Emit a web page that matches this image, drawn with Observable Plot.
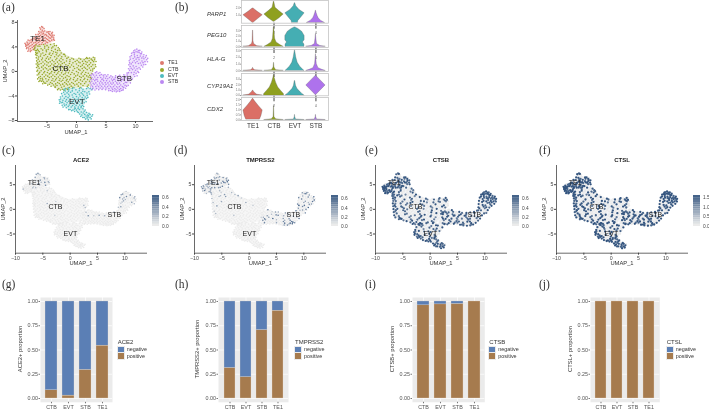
<!DOCTYPE html>
<html><head><meta charset="utf-8">
<style>html,body{margin:0;padding:0;background:#fff}#fig{position:relative;width:709px;height:412px;overflow:hidden;font-family:"Liberation Sans",sans-serif;filter:blur(.28px)}#fig span{position:absolute;white-space:nowrap;line-height:1}</style>
<script src="https://cdn.jsdelivr.net/npm/d3@7"></script>
<script src="https://cdn.jsdelivr.net/npm/@observablehq/plot@0.6"></script>
</head><body><div id="fig"></div>
<script>
// ---------- UMAP cells ----------
const te1Pts=[[-8.6,4.4],[-8.4,3.9],[-8.4,4.8],[-8.1,3.5],[-8.0,4.1],[-8.0,4.6],[-7.9,5.0],[-7.7,3.4],[-7.5,3.9],[-7.5,4.4],[-7.5,4.9],[-7.4,5.3],[-7.1,3.7],[-7.1,4.2],[-7.0,4.7],[-7.0,5.2],[-6.9,5.6],[-6.7,4.6],[-6.6,5.0],[-6.6,5.5],[-6.5,6.0],[-6.3,4.4],[-6.2,4.9],[-6.2,5.4],[-6.1,5.9],[-6.0,6.4],[-6.1,6.9],[-5.9,7.3],[-5.8,6.7],[-5.8,4.7],[-5.7,5.2],[-5.7,5.7],[-5.6,6.2],[-5.4,6.6],[-5.3,4.5],[-5.3,5.0],[-5.3,5.5],[-5.2,6.0],[-5.0,6.4],[-4.9,4.7],[-4.9,5.2],[-4.8,5.7],[-4.7,6.2],[-4.5,4.9],[-4.4,5.4],[-4.4,5.9],[-4.2,6.2],[-4.2,5.1],[-4.0,5.6],[-3.9,5.2],[-4.5,6.5],[-6.4,6.5],[-5.5,7.0],[-8.2,5.1],[-8.6,4.1],[-8.3,4.3],[-7.8,3.7],[-7.7,4.7],[-6.9,6.0],[-3.8,5.9]];
const ctbPts=[[-6.9,4.3],[-6.2,4.1],[-5.6,4.4],[-5.0,4.2],[-4.4,4.4],[-3.8,4.5],[-3.4,4.2],[-7.1,3.8],[-6.6,3.6],[-6.0,3.7],[-5.4,3.8],[-4.8,3.6],[-4.2,3.8],[-3.6,3.6],[-3.1,3.9],[-2.8,3.4],[-6.9,3.1],[-6.3,3.2],[-5.7,3.0],[-5.1,3.2],[-4.5,3.0],[-3.9,3.2],[-3.3,3.0],[-2.6,3.0],[-2.2,2.8],[-6.7,2.6],[-6.1,2.5],[-5.5,2.6],[-4.9,2.4],[-4.3,2.6],[-3.7,2.4],[-3.1,2.5],[-2.5,2.4],[-1.9,2.5],[-1.4,2.3],[-6.5,2.0],[-5.9,1.9],[-5.3,1.8],[-4.7,2.0],[-4.1,1.8],[-3.5,1.9],[-2.9,1.8],[-2.3,1.9],[-1.7,1.7],[-1.1,1.9],[-0.5,2.0],[0.1,1.8],[0.7,2.0],[1.3,1.9],[1.9,2.1],[2.5,2.0],[3.1,2.2],[2.9,1.6],[-6.6,1.4],[-6.0,1.3],[-5.4,1.2],[-4.8,1.4],[-4.2,1.2],[-3.6,1.3],[-3.0,1.2],[-2.4,1.3],[-1.8,1.1],[-1.2,1.3],[-0.6,1.4],[0.0,1.2],[0.6,1.4],[1.2,1.3],[1.8,1.5],[2.4,1.4],[3.2,1.1],[-6.5,0.8],[-5.9,0.7],[-5.3,0.6],[-4.7,0.8],[-4.1,0.6],[-3.5,0.7],[-2.9,0.6],[-2.3,0.7],[-1.7,0.5],[-1.1,0.7],[-0.5,0.8],[0.1,0.6],[0.7,0.8],[1.3,0.7],[1.9,0.9],[2.5,0.8],[3.0,0.5],[-6.6,0.2],[-6.0,0.1],[-5.4,0.0],[-4.8,0.2],[-4.2,0.0],[-3.6,0.1],[-3.0,0.0],[-2.4,0.1],[-1.8,-0.1],[-1.2,0.1],[-0.6,0.2],[0.0,0.0],[0.6,0.2],[1.2,0.1],[1.8,0.3],[2.4,0.2],[-6.4,-0.4],[-5.8,-0.5],[-5.2,-0.6],[-4.6,-0.4],[-4.0,-0.6],[-3.4,-0.5],[-2.8,-0.6],[-2.2,-0.5],[-1.6,-0.7],[-1.0,-0.5],[-0.4,-0.4],[0.2,-0.6],[0.8,-0.4],[1.4,-0.5],[2.0,-0.3],[-6.4,-1.0],[-5.8,-1.1],[-5.2,-1.2],[-4.6,-1.0],[-4.0,-1.2],[-3.4,-1.1],[-2.8,-1.2],[-2.2,-1.1],[-1.6,-1.3],[-1.0,-1.1],[-0.4,-1.0],[0.2,-1.2],[0.8,-1.0],[1.4,-1.1],[2.0,-0.9],[2.5,-1.2],[-6.2,-1.5],[-5.6,-1.7],[-5.0,-1.6],[-4.4,-1.8],[-3.8,-1.6],[-3.2,-1.8],[-2.6,-1.6],[-2.0,-1.8],[-1.4,-1.7],[-0.8,-1.8],[-0.2,-1.6],[0.4,-1.8],[1.0,-1.6],[1.6,-1.7],[2.2,-1.6],[-4.6,-2.1],[-3.9,-2.2],[-3.3,-2.3],[-2.7,-2.2],[-2.1,-2.4],[-1.5,-2.2],[-0.9,-2.4],[-0.3,-2.2],[0.3,-2.4],[1.1,-2.3],[2.0,-2.2],[-3.0,-2.8],[-2.4,-2.9],[-1.8,-2.8],[-6.1,-1.2],[-5.4,-1.9],[-6.6,1.0],[-6.8,2.9],[-7.0,3.4],[-6.6,3.0],[-4.0,4.0],[-3.2,3.4],[2.7,1.8],[1.6,2.1],[2.2,2.2]];
const evtPts=[[-1.9,-2.8],[-1.3,-3.0],[-0.7,-2.8],[-0.1,-3.0],[0.5,-2.8],[1.1,-2.9],[1.7,-2.8],[2.3,-2.8],[-2.2,-3.4],[-1.6,-3.5],[-1.0,-3.4],[-0.4,-3.6],[0.2,-3.4],[0.8,-3.5],[1.4,-3.3],[2.1,-3.3],[2.6,-3.0],[-2.4,-4.0],[-1.8,-4.1],[-1.2,-4.0],[-0.6,-4.2],[0.0,-4.1],[0.6,-4.0],[1.2,-3.9],[1.8,-3.9],[-2.7,-4.5],[-2.3,-4.7],[-1.7,-4.6],[-1.1,-4.5],[-0.5,-4.8],[0.1,-4.6],[0.7,-4.6],[1.3,-4.5],[1.7,-4.4],[-2.6,-5.1],[-2.1,-5.3],[-1.6,-5.1],[-1.0,-5.2],[-0.4,-5.3],[0.2,-5.2],[0.8,-5.2],[1.3,-5.1],[-2.0,-5.6],[-1.4,-5.7],[-0.9,-5.8],[-0.3,-5.8],[0.3,-5.8],[0.8,-5.7],[-1.1,-6.2],[-0.6,-6.3],[0.0,-6.3],[0.5,-6.2],[1.1,-6.1],[0.3,-6.7],[0.8,-6.6],[1.3,-6.5],[1.7,-6.7],[0.9,-7.1],[1.4,-7.0],[1.9,-7.1],[2.3,-7.0],[1.3,-7.5],[1.8,-7.6],[2.3,-7.5],[2.6,-7.3],[2.0,-7.9],[-2.8,-4.9],[-1.9,-3.2],[-0.2,-6.0],[1.0,-5.5]];
const stbPts=[[2.7,-0.4],[3.2,-0.2],[3.7,-0.3],[4.2,-0.5],[2.6,-1.0],[3.1,-0.9],[3.6,-1.0],[4.1,-1.0],[4.6,-0.9],[5.1,-0.8],[5.6,-1.0],[6.1,-0.9],[6.6,-1.0],[7.1,-0.8],[7.6,-1.0],[8.1,-0.8],[8.6,-0.6],[2.6,-1.6],[3.1,-1.5],[3.6,-1.6],[4.1,-1.6],[4.6,-1.5],[5.1,-1.5],[5.6,-1.6],[6.1,-1.5],[6.6,-1.6],[7.1,-1.5],[7.6,-1.6],[8.1,-1.4],[8.6,-1.2],[9.1,-0.8],[2.5,-2.2],[3.0,-2.1],[3.5,-2.2],[4.0,-2.2],[4.5,-2.1],[5.0,-2.1],[5.5,-2.2],[6.0,-2.1],[6.5,-2.2],[7.0,-2.1],[7.5,-2.2],[8.0,-2.0],[8.5,-1.8],[9.0,-1.4],[2.8,-2.7],[3.4,-2.8],[4.0,-2.7],[4.5,-2.7],[5.0,-2.7],[5.5,-2.8],[6.0,-2.7],[6.5,-2.8],[7.0,-2.7],[7.5,-2.8],[8.0,-2.6],[8.5,-2.4],[5.8,-3.1],[6.4,-3.2],[7.0,-3.2],[7.6,-3.1],[9.3,-0.2],[9.7,-0.5],[10.1,-0.3],[9.0,0.2],[9.5,0.3],[10.0,0.2],[10.4,0.0],[9.1,0.8],[9.6,0.9],[10.1,0.8],[10.6,0.6],[9.0,1.4],[9.5,1.5],[10.0,1.4],[10.5,1.3],[11.0,1.0],[11.4,1.1],[9.1,2.0],[9.6,2.1],[10.1,2.0],[10.6,1.9],[11.1,1.7],[11.6,1.6],[11.9,1.9],[9.3,2.6],[9.8,2.7],[10.3,2.6],[10.8,2.5],[11.3,2.4],[11.7,2.3],[9.6,3.1],[10.1,3.2],[10.6,3.1],[11.0,2.9],[9.9,3.5],[10.5,3.4],[2.9,-0.6],[3.3,-1.3],[3.9,-1.9],[4.3,-1.3],[4.8,-2.4],[5.3,-1.2],[5.8,-1.9],[6.3,-1.3],[6.8,-2.5],[7.3,-1.9],[7.8,-1.3],[8.3,-1.0],[8.8,-0.2],[6.7,-3.0],[7.9,-2.9]];
// a second pass over the same picture, denser along the edges
const te1More=[[-8.72,4.57],[-8.53,4.22],[-8.47,3.72],[-8.24,3.28],[-8.31,4.63],[-8.13,3.82],[-8.14,4.38],[-7.83,3.23],[-7.72,4.18],[-7.66,5.16],[-7.33,3.56],[-7.28,4.09],[-7.26,4.63],[-7.17,5.43],[-6.83,4.36],[-6.81,4.93],[-6.74,5.28],[-6.42,4.72],[-6.38,5.21],[-6.31,5.73],[-6.27,6.22],[-5.97,4.43],[-5.94,5.08],[-5.92,5.62],[-5.83,6.08],[-5.67,6.46],[-5.57,4.93],[-5.52,5.41],[-5.47,5.93],[-5.13,4.78],[-5.11,5.33],[-5.06,5.83],[-4.77,6.47],[-4.68,5.03],[-4.63,5.47],[-4.58,6.03],[-4.23,5.63],[-4.12,5.91],[-3.86,5.44],[-4.07,6.38],[-3.75,5.07],[-6.21,7.12],[-5.72,7.18]];
const ctbMore=[[-7.22,3.62],[-7.03,3.98],[-6.77,3.42],[-6.93,2.72],[-6.82,2.21],[-6.75,1.72],[-6.83,1.21],[-6.77,0.63],[-6.71,0.03],[-6.66,-0.57],[-6.58,-1.22],[-6.37,-1.63],[-5.93,-1.62],[-5.72,-2.01],[-5.22,-1.93],[-4.88,-2.23],[-4.31,-2.41],[-3.62,-2.63],[-3.21,-2.97],[-2.73,-3.03],[-2.11,-3.08],[-1.52,-2.93],[-6.12,-0.83],[-5.73,-1.38],[-6.26,-0.16],[-6.33,0.53],[-6.37,1.16],[-6.28,1.67],[-6.41,2.36],[-6.47,3.37],[-6.52,4.12],[3.07,1.91],[3.31,1.62],[2.84,2.31],[3.27,0.77],[2.76,0.38],[2.62,-0.35],[1.73,2.28],[0.42,2.14],[-0.78,2.16],[-2.02,2.78],[-2.93,3.67],[-3.72,4.23],[-5.38,4.11],[-4.73,3.93],[-5.72,3.48],[-5.13,3.47],[-4.22,3.42],[-3.52,3.12],[-6.02,2.83],[-5.23,2.77],[-4.62,2.82],[-4.03,2.87],[-3.42,2.73],[-2.83,2.68],[-5.77,2.17],[-5.12,2.13],[-4.42,2.23],[-3.33,2.13],[-2.62,2.11],[-1.63,2.12],[-1.13,1.62],[-0.22,1.63],[0.37,1.53],[1.02,1.64],[1.53,1.63],[2.13,1.73],[-5.68,1.53],[-5.07,1.57],[-4.47,1.56],[-3.82,1.58],[-3.23,1.52],[-2.63,1.58],[-2.07,1.43],[-5.63,0.93],[-5.02,1.03],[-4.43,0.93],[-3.83,1.02],[-3.21,0.88],[-2.67,1.02],[-1.42,0.96],[-0.83,1.04],[0.33,0.93],[0.98,1.02],[1.63,1.16],[2.17,1.12],[2.77,1.07],[-5.63,0.38],[-5.07,0.43],[-4.47,0.37],[-3.87,0.33],[-3.22,0.33],[-2.13,0.42],[-1.47,0.38],[-0.32,0.47],[0.38,0.33],[0.97,0.46],[1.53,0.52],[2.18,0.57],[2.73,0.07],[-5.53,-0.23],[-4.93,-0.18],[-4.33,-0.27],[-3.73,-0.17],[-3.17,-0.27],[-2.53,-0.23],[-1.93,-0.37],[-1.37,-0.23],[-0.77,-0.17],[0.31,-0.22],[0.97,-0.13],[1.57,-0.17],[2.23,-0.63],[-5.47,-0.87],[-4.87,-0.77],[-4.27,-0.87],[-3.68,-0.83],[-3.07,-0.91],[-2.47,-0.83],[-1.87,-0.97],[-1.27,-0.82],[-0.13,-0.73],[0.53,-0.83],[1.13,-0.77],[1.73,-0.73],[-4.73,-1.37],[-4.17,-1.47],[-3.53,-1.37],[-2.93,-1.47],[-2.33,-1.43],[-1.73,-1.52],[-1.13,-1.37],[-0.53,-1.33],[0.07,-1.43],[0.67,-1.38],[1.27,-1.32],[1.87,-1.33],[2.32,-0.97],[-4.13,-1.97],[-3.53,-2.03],[-2.93,-1.97],[-2.33,-2.07],[-1.73,-2.03],[-1.13,-2.07],[-0.53,-1.97],[0.07,-2.07],[0.73,-2.03],[1.37,-1.97],[1.83,-2.43],[-3.63,-2.43],[-2.53,-2.57],[-1.23,-2.63],[-0.63,-2.57],[0.62,-2.62]];
const evtMore=[[-2.13,-2.97],[-2.52,-3.62],[-2.73,-4.17],[-2.93,-4.63],[-2.87,-5.18],[-2.43,-5.52],[-2.28,-5.81],[-1.73,-5.93],[-1.32,-6.23],[-0.83,-6.42],[-0.32,-6.53],[0.13,-6.58],[0.53,-6.93],[0.73,-7.32],[1.07,-7.52],[1.53,-7.77],[1.93,-7.43],[2.48,-7.74],[2.73,-7.08],[2.12,-6.83],[2.03,-7.23],[1.63,-7.27],[1.13,-6.78],[1.47,-6.28],[1.22,-5.73],[1.63,-4.93],[1.93,-4.23],[2.23,-3.67],[2.72,-2.83],[-1.42,-2.72],[-0.43,-2.66],[0.83,-2.71],[1.97,-2.67],[-1.37,-3.23],[-0.72,-3.17],[0.47,-3.16],[1.07,-3.23],[1.77,-3.52],[-1.97,-3.72],[-1.32,-3.73],[-0.73,-3.83],[-0.13,-3.72],[0.47,-3.73],[1.03,-3.67],[-2.07,-4.37],[-1.43,-4.27],[-0.33,-4.47],[0.33,-4.33],[0.97,-4.27],[1.47,-4.17],[-2.37,-5.03],[-1.87,-4.87],[-1.33,-4.87],[-0.73,-5.03],[-0.17,-4.97],[0.47,-4.93],[1.03,-4.83],[-1.73,-5.42],[-1.22,-5.47],[-0.67,-5.57],[-0.07,-5.53],[0.53,-5.47],[-0.33,-6.13],[0.27,-6.03],[0.77,-5.93]];
const stbMore=[[2.42,-0.63],[2.37,-1.27],[2.33,-1.87],[2.41,-2.53],[2.63,-2.92],[3.13,-3.03],[3.77,-2.97],[4.33,-2.93],[4.93,-2.98],[5.47,-3.13],[6.07,-3.27],[6.73,-3.33],[7.33,-3.27],[7.87,-3.07],[8.33,-2.73],[8.77,-2.27],[9.13,-1.87],[9.47,-1.23],[9.87,-0.83],[10.27,-0.72],[10.53,-0.17],[10.82,0.37],[11.23,0.72],[11.73,1.13],[12.03,1.57],[12.07,2.13],[11.83,2.57],[11.42,2.73],[11.07,3.17],[10.73,3.43],[10.23,3.63],[9.72,3.37],[9.33,2.97],[9.07,2.37],[8.93,1.73],[8.87,1.07],[8.82,0.43],[8.57,-0.27],[8.03,-0.53],[7.33,-0.63],[6.63,-0.72],[5.83,-0.73],[4.83,-0.53],[3.97,-0.17],[3.43,-0.07],[9.83,3.03],[10.37,3.17],[10.83,2.87],[11.43,2.07],[11.27,1.43],[10.83,1.37],[10.33,2.27],[9.87,2.37],[10.57,2.23],[11.07,2.17],[10.27,1.63],[9.77,1.73],[9.27,1.23],[9.77,0.57],[10.27,0.43],[9.27,0.53],[9.77,-0.13],[3.37,-0.63],[3.93,-0.67],[4.53,-0.63],[5.33,-0.53],[5.93,-1.23],[6.47,-1.27],[7.03,-1.17],[7.53,-1.33],[8.27,-1.77],[8.73,-1.53],[2.83,-1.27],[3.47,-1.33],[4.47,-1.23],[4.93,-1.13],[2.83,-1.93],[3.27,-1.87],[4.33,-1.87],[4.87,-1.83],[5.33,-1.87],[6.23,-1.87],[6.83,-1.87],[2.73,-2.43],[3.27,-2.47],[3.73,-2.47],[4.27,-2.43],[5.27,-2.47],[5.77,-2.47],[6.27,-2.47],[7.27,-2.47],[7.77,-2.47],[8.23,-2.27],[6.13,-2.93],[7.27,-2.97]];
// silhouettes of the clusters
const te1Outline=[[-8.7,4.4],[-8.1,3.3],[-7.4,3.3],[-6.4,4.3],[-5,4.4],[-3.8,4.9],[-3.7,5.9],[-4.3,6.5],[-5.3,6.7],[-5.9,7.4],[-6.2,6.8],[-7,5.8],[-8,5.2]];
const ctbOutline=[[-7.1,3.9],[-6.4,4.4],[-4,4.6],[-2.1,2.9],[-0.5,2.1],[1.5,2.2],[3.2,2.3],[3.2,0.8],[2.6,-0.3],[2.5,-2.4],[0.5,-2.6],[-1.8,-3],[-3,-3],[-4.8,-2.1],[-6.3,-1.6],[-6.7,0],[-6.8,2.6]];
const evtOutline=[[-2,-2.7],[2.6,-2.8],[1.9,-4.2],[1.4,-5.2],[1.1,-6],[1.8,-6.6],[2.7,-7.3],[2,-8],[1.2,-7.6],[0,-6.5],[-1.2,-6.3],[-2.2,-5.6],[-2.9,-4.8],[-2.4,-3.8]];
const stbOutline=[[2.5,-0.4],[3.2,-0.1],[4.5,-0.4],[6,-0.8],[8,-0.7],[8.9,0],[8.9,1.5],[9.4,3],[10,3.6],[11,3.1],[12,2],[11.5,1],[10.7,0.5],[10.2,-0.5],[9,-1.8],[8,-2.9],[7,-3.3],[5.6,-3.1],[4,-2.9],[2.7,-2.9],[2.4,-1.5]];

// expression, one digit per cell (0 = none, 9 = the scale's maximum)
const ace2={TE1:"000000000000000302000300000500530000300000460020400530300030",CTB:"0000000000002000000000000000000000000000000000000000000004000000000000000000000000000300000000000000000000000000000000000000200000000000000000000000000000000000000000",EVT:"0000000000000000000000000000000000000000000000000000000000000000000000",STB:"0000000000000000000000000000000000000000000000000000000000000000000000000300000430002006004500700360205040000000000000000000"};
const ace2More={TE1:"0000000000000030000200500030500040600030052",CTB:"0000000000000000000000000000000000030000000000000000000000000000000000002000000",EVT:"",STB:"00000000000000000000000300400020560030400000000005003000420050"};
const tmprss2={TE1:"005030500400440570050604050400600560000707006050800400030467",CTB:"0050040000300000400050030003050000200000000000000000030000000004000000050000000000200000000000000000000200000000000000000000300000000000000000000000200000000000000000050030000",EVT:"0000000000000000000000000000000000000000000000000000000000000000000000",STB:"0002000300000400040500000000700650003004070006000400708800560300500690700040550700078040603040504050007040600007060509308000"};
const tmprss2More={TE1:"5640470306503060504050600300405060700503604",CTB:"0400300000000000000000300000000000000000500000200030000000000000000040000000000000",EVT:"0000000000000000000000000000000000000000000",STB:"0000000000000060700508000070040506060700405070800030000500600500040040030006708005000000060700400500300"};
const ctsb={TE1:"998899899079809907708909080708097090890808708097009900897988",CTB:"8070808090900770807060090708008009070090600807080070600807900806080700908006000708000900908700806000900700800080009007000800709906008009007008000060800900700800809090708098700880709",EVT:"7080900708007090800600890700809007090800709800790890700809998989899899",STB:"7008070800907008009000800700600708006000800700908708009008007800907009800907800908997998989989979899989799800800700800909808"};
const ctsbMore={TE1:"9899989807908990087009087098098080907980989",CTB:"9898979898980897989799878978900809070808000708000970006000800900080070090000700080090000800070060090080000700900800700070009000600800900090708090070009008000700080060009000700900",EVT:"98989798999899707908007800090080070090000800908070800090080090009",STB:"909098090989899899879899899897989999989797090989899889899099008009080707008090070080090800900700800990"};
const ctsl={TE1:"999989899089909908808909090809098090990908809098009900998999",CTB:"9080909090900880909070090809009009080090700908090080700908900907090800909007090809000900909800907000900800900090009008090900809909009009008009000070900900800909909090809099800990899",EVT:"9090900809008090900700990800909008090900809900890990809909999989999999",STB:"8009080900908009009080900800700809007090900800908809009009008900908009900908900909998999989999989899999899900900800909909809"};
const ctslMore={TE1:"9999989908909990089009098099098090908990999",CTB:"9999989998990898999899989989900909080909080808090980809000900900090080090090800090090080900080070090090800900900800900080009090700900900090809090080009009080800090070090080900",EVT:"99999899999999808909008900090090080090080900909080900090090090099",STB:"909099090999899999899999999899999999989898090999999899999099009009090808009090080090090900900800900990"};
const clusterLabels=[{t:"TE1",x:-6.6,y:5.3},{t:"CTB",x:-2.7,y:0.55},{t:"EVT",x:0.05,y:-4.95},{t:"STB",x:8.1,y:-1.1}];

// ---------- violins: [expression, half width] ----------
const clusters=["TE1","CTB","EVT","STB"];
const genes=["PARP1","PEG10","HLA-G","CYP19A1","CDX2"];
const parp1={TE1:[[0,0.02],[0.5,0.24],[1,0.46],[1.45,0.22],[1.9,0.02]],CTB:[[0.13,0.02],[0.6,0.26],[1.1,0.46],[1.55,0.25],[2,0.07],[2.8,0.01]],EVT:[[0,0.14],[0.25,0.16],[0.7,0.3],[1.25,0.46],[1.7,0.22],[2.2,0.06],[2.6,0.01]],STB:[[0,0.42],[0.25,0.25],[0.6,0.13],[0.9,0.08],[1.3,0.03],[1.6,0.005]]};
const peg10={TE1:[[0,0.45],[0.1,0.2],[0.5,0.05],[1,0.02],[3,0.005]],CTB:[[0,0.45],[0.3,0.3],[0.8,0.12],[1.5,0.05],[3,0.02],[3.6,0.005]],EVT:[[0,0.45],[0.4,0.45],[0.8,0.38],[1.2,0.46],[2,0.46],[2.8,0.34],[3.3,0.16],[3.6,0.02]],STB:[[0,0.45],[0.15,0.2],[0.5,0.05],[1.5,0.02],[2.3,0.003]]};
const hlag={TE1:[[0,0.45],[0.08,0.1],[0.3,0.01],[0.45,0.002]],CTB:[[0,0.45],[0.1,0.1],[0.5,0.02],[1.2,0.003]],EVT:[[0,0.45],[0.2,0.38],[0.6,0.25],[1.2,0.13],[2,0.06],[2.8,0.02],[3.1,0.003]],STB:[[0,0.45],[0.15,0.3],[0.4,0.12],[1,0.04],[2,0.01],[2.5,0.003]]};
const cyp19a1={TE1:[[0,0.45],[0.15,0.2],[0.4,0.12],[0.7,0.04],[0.95,0.002]],CTB:[[0,0.48],[0.3,0.47],[0.8,0.35],[1.5,0.2],[2.4,0.1],[3.3,0.03],[3.8,0.002]],EVT:[[0,0.45],[0.3,0.35],[0.7,0.25],[1.2,0.12],[1.8,0.05],[2.7,0.01]],STB:[[0.05,0.002],[1.87,0.46],[3.7,0.002]]};
const cdx2={TE1:[[0.05,0.33],[0.4,0.4],[0.93,0.46],[1.4,0.26],[1.8,0.1],[2.07,0.01]],CTB:[[0,0.45],[0.07,0.1],[0.3,0.02],[1.4,0.002]],EVT:[[0,0.45],[0.05,0.05],[0.3,0.01],[0.5,0.002]],STB:[[0,0.45],[0.05,0.05],[0.3,0.01],[0.5,0.002]]};
const violinSets=[parp1,peg10,hlag,cyp19a1,cdx2];
const violinTicks=[[1,2],[0,1,2,3],[0,1,2,3],[0,1,2,3],[0,0.5,1,1.5,2]];
const violinYDomain=[[-0.05,2.95],[-0.15,3.95],[-0.1,3.2],[-0.05,4.1],[-0.05,2.2]];
const violinTop=[0,24.7,49,72.7,97];
const violinBottom=[22.7,46.7,71,95,120];

// ---------- stacked proportions ----------
const barOrder=["CTB","EVT","STB","TE1"];
const statusOrder=["positive","negative"];
const positiveShare={ACE2:[0.085,0.03,0.295,0.545],TMPRSS2:[0.315,0.22,0.705,0.905],CTSB:[0.96,0.97,0.975,1],CTSL:[1,1,1,1]};
const propTicks=[0,0.25,0.5,0.75,1];

const clusterColor=["#DE7A70","#98A92C","#4FBBBF","#BB88F1"];
const violinColor=["#DB6F66","#8FA01F","#45AEB3","#AE72EC"];
const statusColor=["#A67B4E","#5B7FB5"];
const lowColor="#ebebeb", highColor="#34557F";
const barStops=[0,.07,.14,.21,.28,.35,.42,.49,.56,.63,.7,.77,.84,.91,1];

const fig=document.getElementById("fig");
const sty=(f=5.5)=>({background:"transparent",overflow:"visible",fontFamily:"Liberation Sans",fontSize:f+"px",color:"#444",maxWidth:"none"});
function put(node,l,t){node.style.position="absolute";node.style.left=l+"px";node.style.top=t+"px";fig.append(node);return node}
function label(t,x,y,o={}){const s=document.createElement("span");s.textContent=t;
  s.style.cssText=`left:${x}px;top:${y}px;font-size:${o.size||6}px;color:${o.color||"#333"};font-family:${o.family||'"Liberation Sans"'};font-style:${o.italic?"italic":"normal"};font-weight:${o.weight||"normal"};transform:translate(${o.ax??0}%,-50%);`;
  if(o.rot)s.style.transform=`translate(-50%,-50%) rotate(${o.rot}deg)`;fig.append(s);return s}

const sets={TE1:te1Pts,CTB:ctbPts,EVT:evtPts,STB:stbPts};
const moreSets={TE1:te1More,CTB:ctbMore,EVT:evtMore,STB:stbMore};
const outlines={TE1:te1Outline,CTB:ctbOutline,EVT:evtOutline,STB:stbOutline};
const outlineRows=clusters.flatMap(c=>outlines[c].map(([x,y])=>({c,x,y})));
const cells=(expr,more,max)=>clusters.flatMap(c=>[
  ...sets[c].map(([x,y],i)=>({c,x,y,v:expr?(+(expr[c][i]??0))/9*max:0})),
  ...moreSets[c].map(([x,y],i)=>({c,x,y,v:more?(+(more[c][i]??0))/9*max:0}))]);

// (a)
put(Plot.plot({width:160,height:136,marginLeft:17,marginRight:7,marginTop:20,marginBottom:15,style:sty(5.5),
  x:{domain:[-10,13.05],label:null},
  y:{domain:[-8.16,8.3],label:null},
  color:{domain:clusters,range:clusterColor},
  marks:[
    Plot.line(outlineRows,{x:"x",y:"y",z:"c",fill:"c",stroke:"none",fillOpacity:.22,curve:"linear-closed"}),
    Plot.dot(cells(null,null,0),{x:"x",y:"y",fill:"c",r:.8}),
    Plot.ruleX([-10],{stroke:"#444",strokeWidth:.8}),Plot.ruleY([-8.16],{stroke:"#444",strokeWidth:.8}),
    Plot.axisX({ticks:[-5,0,5,10],tickSize:2,tickPadding:1,label:null,fill:"#444"}),
    Plot.axisY({ticks:[-8,-4,0,4,8],tickSize:2,tickPadding:1,label:null,fill:"#444"}),
    Plot.text(clusterLabels,{x:"x",y:"y",text:"t",fontSize:8,fill:"#222"})
  ]}),0,0);
label("UMAP_1",76,132.5,{size:5.8,ax:-50});label("UMAP_2",6,71,{size:5.8,rot:-90});
clusters.forEach((c,i)=>{const d=document.createElement("div");d.style.cssText=`position:absolute;left:160.3px;top:${61.3+i*6.35}px;width:4px;height:4px;border-radius:50%;background:${clusterColor[i]}`;fig.append(d);label(c,168,63.3+i*6.35,{size:5.2})});

// (b)
genes.forEach((g,k)=>{
  const rows=clusters.flatMap((c,i)=>violinSets[k][c].map(([v,w])=>({c,i:i+1,v,w})));
  const h=violinBottom[k]-violinTop[k],last=k===genes.length-1;
  put(Plot.plot({width:100,height:h+(last?14:0.5),marginLeft:10,marginRight:3,marginTop:0,marginBottom:last?14:0.5,style:sty(3),
    x:{domain:[0.448,4.6],label:null},y:{domain:violinYDomain[k],label:null},
    color:{domain:clusters,range:violinColor},
    marks:[
      Plot.areaX(rows,{x1:d=>d.i-d.w,x2:d=>d.i+d.w,y:"v",z:"c",fill:"c",stroke:"#555",strokeWidth:.3,curve:"linear"}),
      Plot.frame({stroke:"#c4c4c4",strokeWidth:.8}),
      Plot.axisY({ticks:violinTicks[k],tickSize:1,tickPadding:.5,label:null,fill:"#777",stroke:"#999"}),
      last?Plot.axisX({ticks:[1,2,3,4],tickFormat:i=>clusters[i-1],tickSize:0,tickPadding:2.5,label:null,fontSize:6.5,fill:"#333"}):null
    ]}),230.7,violinTop[k]);
});
[14.3,35,59.3,85.7,109.3].forEach((y,k)=>label(genes[k],207,y,{italic:true,size:6}));

// (c)-(f)
const feats=[
 {name:"ACE2",off:0,expr:ace2,more:ace2More,max:.635,t:[0,.2,.4,.6],bar:151.7,bg:"#f6f6f6",r:.8},
 {name:"TMPRSS2",off:179.3,expr:tmprss2,more:tmprss2More,max:.675,t:[0,.2,.4,.6],bar:331,bg:"#f6f6f6",r:.8},
 {name:"CTSB",off:360,expr:ctsb,more:ctsbMore,max:.675,t:[0,.2,.4,.6],bar:512,bg:"#f3f5f8",r:1.1},
 {name:"CTSL",off:541,expr:ctsl,more:ctslMore,max:1.6,t:[0,.5,1,1.5],bar:693,bg:"#f3f5f8",r:1.15}];
feats.forEach(f=>{
  const color={type:"linear",domain:[0,f.max],range:[lowColor,highColor]};
  put(Plot.plot({width:150,height:130,marginLeft:15,marginRight:3,marginTop:25,marginBottom:17.3,style:sty(5.2),
    x:{domain:[-10,14.15],label:null},y:{domain:[-8.9,8.9],label:null},color,
    marks:[
      Plot.line(outlineRows,{x:"x",y:"y",z:"c",fill:f.bg,stroke:"none",curve:"linear-closed"}),
      Plot.dot(cells(f.expr,f.more,f.max),{x:"x",y:"y",fill:"v",r:f.r,sort:"v"}),
      Plot.ruleX([-10],{stroke:"#444",strokeWidth:.8}),Plot.ruleY([-8.9],{stroke:"#444",strokeWidth:.8}),
      Plot.axisX({ticks:[-10,-5,0,5,10],tickSize:2,tickPadding:1,label:null,fill:"#444"}),
      Plot.axisY({ticks:[-5,0,5],tickSize:2,tickPadding:1,label:null,fill:"#444"}),
      Plot.text(clusterLabels,{x:"x",y:"y",text:"t",fontSize:7,fill:"#222"})
    ]}),f.off,140);
  label(f.name,f.off+81,159.5,{size:6,weight:"bold",ax:-50,color:"#222"});
  label("UMAP_1",f.off+81,263.5,{size:5.8,ax:-50});label("UMAP_2",f.off+3.5,209,{size:5.8,rot:-90});
  const stops=barStops.map((s,i)=>({a:s*f.max,b:(barStops[i+1]??s)*f.max,v:s*f.max}));
  put(Plot.plot({width:24,height:31,marginLeft:0,marginRight:17,marginTop:0,marginBottom:0,style:sty(4.8),
    x:{domain:[0,1],axis:null},y:{domain:[0,f.max],label:null},color,
    marks:[
      Plot.rect(stops,{x1:0,x2:1,y1:"a",y2:"b",fill:"v"}),
      Plot.axisY({anchor:"right",ticks:f.t,tickSize:0,tickPadding:2.5,tickFormat:d3.format(".1f"),label:null,fill:"#444"})
    ]}),f.bar,195);
});

// (g)-(j)
const props=[
 {name:"ACE2",x0:40,x1:112,lab:20.7,leg:117.7},
 {name:"TMPRSS2",x0:218.3,x1:288.3,lab:198,leg:295},
 {name:"CTSB",x0:411.7,x1:484,lab:392.7,leg:489.3},
 {name:"CTSL",x0:590,x1:659.3,lab:570.7,leg:666.7}];
props.forEach(p=>{
  const rows=barOrder.flatMap((c,i)=>[{c,s:"positive",v:positiveShare[p.name][i]},{c,s:"negative",v:1-positiveShare[p.name][i]}]);
  put(Plot.plot({width:p.x1-p.x0+30,height:115.3,marginLeft:30,marginRight:0,marginTop:0,marginBottom:10.5,style:sty(5.4),
    x:{domain:barOrder,paddingInner:.32,paddingOuter:.255,label:null},
    y:{domain:[-0.039,1.041],label:null},
    color:{domain:statusOrder,range:statusColor},
    marks:[
      Plot.frame({fill:"#ebebeb",stroke:"none"}),
      Plot.gridY(propTicks,{stroke:"#fff",strokeOpacity:1,strokeWidth:.7}),
      Plot.gridX(barOrder,{stroke:"#fff",strokeOpacity:1,strokeWidth:.7}),
      Plot.barY(rows,{x:"c",y:"v",fill:"s",order:statusOrder,stroke:"#e9ddcf",strokeWidth:.3}),
      Plot.axisX({tickSize:1.5,tickPadding:1,label:null,fill:"#555",stroke:"#777"}),
      Plot.axisY({ticks:propTicks,tickFormat:d3.format(".2f"),tickSize:1.5,tickPadding:1,label:null,fill:"#555",stroke:"#777"})
    ]}),p.x0-30,296.7);
  label(p.name+"+ proportion",p.lab,349,{size:5.8,rot:-90});
  label(p.name,p.leg,341.7,{size:6});
  [statusColor[1],statusColor[0]].forEach((col,i)=>{
    const d=document.createElement("div");d.style.cssText=`position:absolute;left:${p.leg}px;top:${346.7+i*6.6}px;width:6.2px;height:6.2px;background:${col};outline:.5px solid #ebebeb`;fig.append(d);
    label(i?"positive":"negative",p.leg+9,350+i*6.6,{size:5.4});
  });
});

// panel letters
[["(a)",2,8],["(b)",175,8],["(c)",2,150.7],["(d)",174,150.7],["(e)",365,150.7],["(f)",539,150.7],["(g)",2,285],["(h)",175,285],["(i)",365,285],["(j)",539,285]]
 .forEach(([t,x,y])=>label(t,x,y,{size:11.5,family:'"Liberation Serif"',color:"#333"}));
</script></body></html>
